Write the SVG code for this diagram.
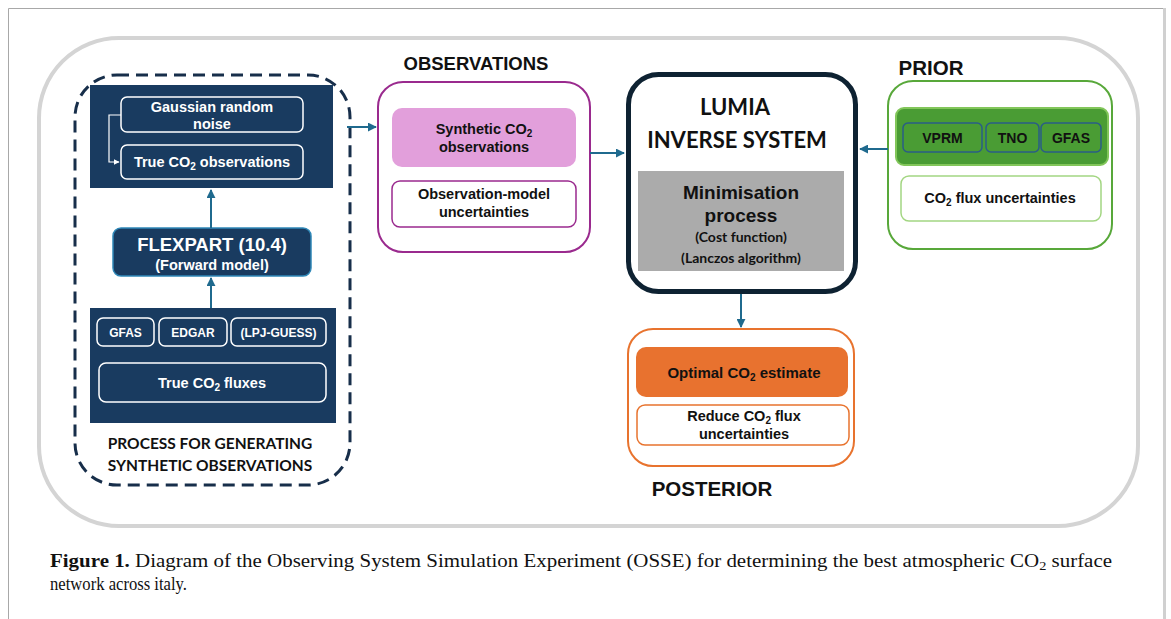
<svg xmlns="http://www.w3.org/2000/svg" width="1171" height="619" viewBox="0 0 1171 619">
<defs>
<style>
.a{font-family:"Liberation Sans",Arial,sans-serif;font-weight:bold;text-anchor:middle}
.c{font-family:Lato,"Liberation Sans",sans-serif;font-weight:bold;text-anchor:middle}
.w{fill:#ffffff}
.k{fill:#111111}
.conn{stroke:#1f6a8e;stroke-width:2;fill:none}
.wb{fill:none;stroke:#ffffff;stroke-width:1.5}
</style>
<marker id="ah" viewBox="0 0 10 10" refX="9" refY="5" markerWidth="4.5" markerHeight="4.5" orient="auto-start-reverse">
<path d="M0,0 L10,5 L0,10 z" fill="#1f6a8e"/>
</marker>
<marker id="wh" viewBox="0 0 10 10" refX="9" refY="5" markerWidth="5" markerHeight="5" orient="auto">
<path d="M0,0 L10,5 L0,10 z" fill="#ffffff"/>
</marker>
</defs>
<rect width="1171" height="619" fill="#ffffff"/>
<!-- figure frame -->
<path d="M8.5,619 V8.5 H1163" fill="none" stroke="#a8a8a8" stroke-width="1"/>
<line x1="1164.5" y1="8" x2="1164.5" y2="619" stroke="#d0d0d0" stroke-width="3"/>
<!-- outer rounded panel -->
<rect x="39" y="38" width="1099" height="488" rx="80" fill="none" stroke="#d4d4d4" stroke-width="4"/>

<g id="synthetic-process">
<rect x="75" y="75" width="275" height="410" rx="42" fill="none" stroke="#172e4a" stroke-width="3" stroke-dasharray="12,7"/>
<text class="c k" x="210" y="449" font-size="15.5">PROCESS FOR GENERATING</text>
<text class="c k" x="210" y="471" font-size="15.5">SYNTHETIC OBSERVATIONS</text>
</g>

<g id="obs-generation">
<rect x="90" y="85" width="243" height="103" fill="#193b60"/>
<rect class="wb" x="121" y="97" width="182" height="35" rx="6"/>
<text class="a w" x="212" y="112" font-size="14.5">Gaussian random</text>
<text class="a w" x="212" y="129" font-size="14.5">noise</text>
<rect class="wb" x="121" y="145" width="182" height="34" rx="6"/>
<text class="a w" x="212" y="167" font-size="14.5">True CO<tspan font-size="10" dy="3">2</tspan><tspan dy="-3"> observations</tspan></text>
<path d="M121,115 H109 V162 H119" fill="none" stroke="#ffffff" stroke-width="1.2" marker-end="url(#wh)"/>
</g>

<g id="flexpart">
<rect x="113" y="228" width="198" height="48" rx="8" fill="#193b60" stroke="#2f88b8" stroke-width="1.5"/>
<text class="a w" x="212" y="251" font-size="18.5">FLEXPART (10.4)</text>
<text class="a w" x="212" y="270" font-size="14.5">(Forward model)</text>
</g>

<g id="true-fluxes">
<rect x="90" y="308" width="246" height="115" fill="#193b60"/>
<rect class="wb" x="97" y="318" width="57" height="28" rx="6"/>
<text class="a w" x="125.5" y="336.5" font-size="12">GFAS</text>
<rect class="wb" x="159" y="318" width="68" height="28" rx="6"/>
<text class="a w" x="193" y="336.5" font-size="12">EDGAR</text>
<rect class="wb" x="231" y="318" width="95" height="28" rx="6"/>
<text class="a w" x="278.5" y="336.5" font-size="12">(LPJ-GUESS)</text>
<rect class="wb" x="99" y="363" width="227" height="39" rx="7"/>
<text class="a w" x="212" y="388" font-size="14.5">True CO<tspan font-size="10" dy="3">2</tspan><tspan dy="-3"> fluxes</tspan></text>
</g>

<g id="observations">
<text class="a k" x="476" y="70" font-size="18.5">OBSERVATIONS</text>
<rect x="378" y="82" width="212" height="170" rx="25" fill="#ffffff" stroke="#9a2a8e" stroke-width="2"/>
<rect x="392" y="108" width="184" height="59" rx="10" fill="#e29fdb"/>
<text class="a k" x="484" y="134" font-size="14.5">Synthetic CO<tspan font-size="10" dy="3">2</tspan></text>
<text class="a k" x="484" y="152" font-size="14.5">observations</text>
<rect x="392" y="181" width="184" height="46" rx="8" fill="#ffffff" stroke="#9a2a8e" stroke-width="1.5"/>
<text class="a k" x="484" y="199" font-size="14.5">Observation-model</text>
<text class="a k" x="484" y="217" font-size="14.5">uncertainties</text>
</g>

<g id="lumia">
<rect x="628.5" y="74.5" width="227" height="217" rx="30" fill="#ffffff" stroke="#0e2232" stroke-width="5"/>
<text class="c k" x="735" y="115" font-size="22">LUMIA</text>
<text class="c k" x="737" y="148" font-size="22">INVERSE SYSTEM</text>
<rect x="638" y="171" width="206" height="100" fill="#ababab"/>
<text class="a k" x="741" y="199" font-size="19">Minimisation</text>
<text class="a k" x="741" y="222" font-size="19">process</text>
<text class="c k" x="741" y="242" font-size="14">(Cost function)</text>
<text class="c k" x="741" y="263" font-size="14">(Lanczos algorithm)</text>
</g>

<g id="prior">
<text class="a k" x="931" y="75" font-size="20.5">PRIOR</text>
<rect x="888" y="81" width="224" height="168" rx="25" fill="#ffffff" stroke="#58a83a" stroke-width="2"/>
<rect x="896" y="108" width="212" height="57" rx="8" fill="#4a9c34" stroke="#82c65a" stroke-width="2"/>
<rect x="903" y="123" width="79" height="29" rx="5" fill="#4a9c34" stroke="#2a5d86" stroke-width="1.5"/>
<text class="a k" x="942.5" y="143" font-size="14">VPRM</text>
<rect x="986" y="123" width="53" height="29" rx="5" fill="#4a9c34" stroke="#2a5d86" stroke-width="1.5"/>
<text class="a k" x="1012.5" y="143" font-size="14">TNO</text>
<rect x="1041" y="123" width="60" height="29" rx="5" fill="#4a9c34" stroke="#2a5d86" stroke-width="1.5"/>
<text class="a k" x="1071" y="143" font-size="14">GFAS</text>
<rect x="901" y="176" width="200" height="45" rx="8" fill="#ffffff" stroke="#a3d682" stroke-width="1.5"/>
<text class="a k" x="1000" y="203" font-size="14.5">CO<tspan font-size="10" dy="3">2</tspan><tspan dy="-3"> flux uncertainties</tspan></text>
</g>

<g id="posterior">
<rect x="628" y="329" width="226" height="137" rx="25" fill="#ffffff" stroke="#e8732e" stroke-width="2"/>
<rect x="636" y="347" width="212" height="50" rx="10" fill="#e8722f"/>
<text class="a k" x="744" y="378" font-size="15">Optimal CO<tspan font-size="10" dy="3">2</tspan><tspan dy="-3"> estimate</tspan></text>
<rect x="637" y="405" width="212" height="40" rx="8" fill="#ffffff" stroke="#e8732e" stroke-width="1.5"/>
<text class="a k" x="744" y="421" font-size="14.5">Reduce CO<tspan font-size="10" dy="3">2</tspan><tspan dy="-3"> flux</tspan></text>
<text class="a k" x="744" y="439" font-size="14.5">uncertainties</text>
<text class="a k" x="712" y="496" font-size="20.5">POSTERIOR</text>
</g>

<g id="connectors">
<line class="conn" x1="211" y1="228" x2="211" y2="190" marker-end="url(#ah)"/>
<line class="conn" x1="211" y1="308" x2="211" y2="278" marker-end="url(#ah)"/>
<line class="conn" x1="347" y1="127" x2="376" y2="127" marker-end="url(#ah)"/>
<line class="conn" x1="590" y1="153" x2="624" y2="153" marker-end="url(#ah)"/>
<line class="conn" x1="888" y1="149" x2="860" y2="149" marker-end="url(#ah)"/>
<line class="conn" x1="741" y1="294" x2="741" y2="327" marker-end="url(#ah)"/>
</g>

<g id="caption">
<text x="50" y="567" font-family="'Liberation Serif','Times New Roman',serif" font-size="19" fill="#111111" textLength="1062" lengthAdjust="spacingAndGlyphs"><tspan font-weight="bold">Figure 1.</tspan> Diagram of the Observing System Simulation Experiment (OSSE) for determining the best atmospheric CO<tspan font-size="13" dy="3">2</tspan><tspan dy="-3"> surface</tspan></text>
<text x="50" y="590" font-family="'Liberation Serif','Times New Roman',serif" font-size="19" fill="#111111" textLength="137" lengthAdjust="spacingAndGlyphs">network across italy.</text>
</g>
</svg>
